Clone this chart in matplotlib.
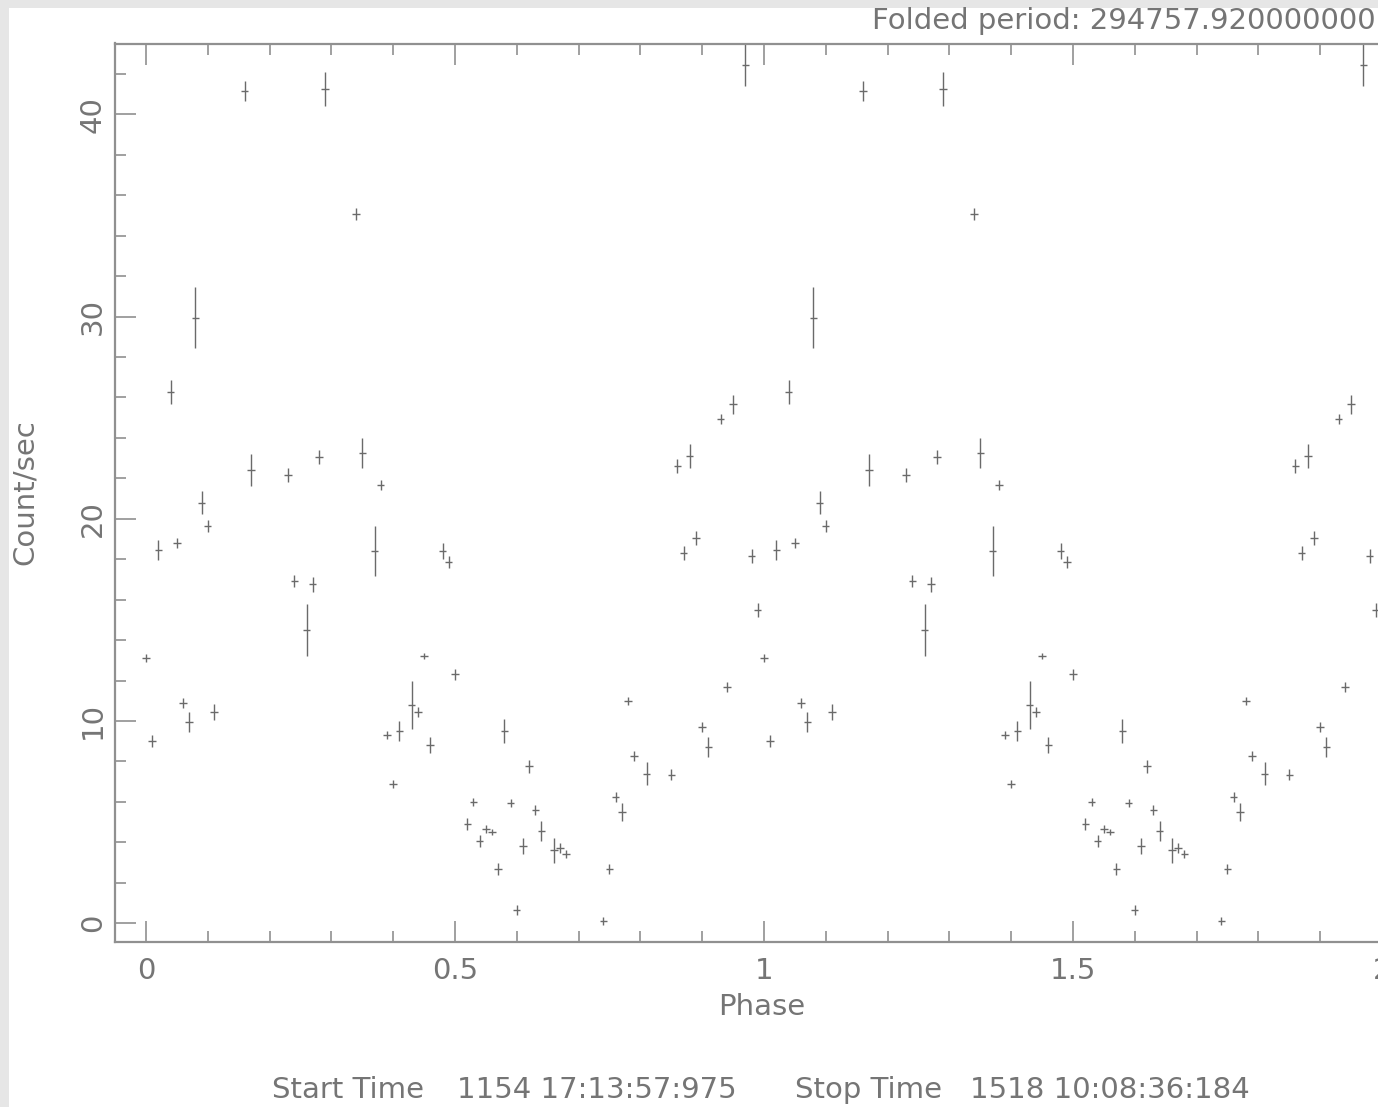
import matplotlib
matplotlib.use("Agg")
import matplotlib.pyplot as plt
from matplotlib.patches import Rectangle
from matplotlib.ticker import MultipleLocator, FuncFormatter
import numpy as np

# Folded light curve: one cycle of binned count rates (bin width 0.01 in phase)
phase = [0.00, 0.01, 0.02, 0.04, 0.05, 0.06, 0.07, 0.08, 0.09, 0.10, 0.11,
         0.16, 0.17, 0.23, 0.24, 0.26, 0.27, 0.28, 0.29, 0.34, 0.35, 0.37,
         0.38, 0.39, 0.40, 0.41, 0.43, 0.44, 0.45, 0.46, 0.48, 0.49, 0.50,
         0.52, 0.53, 0.54, 0.55, 0.56, 0.57, 0.58, 0.59, 0.60, 0.61, 0.62,
         0.63, 0.64, 0.66, 0.67, 0.68, 0.74, 0.75, 0.76, 0.77, 0.78, 0.79,
         0.81, 0.85, 0.86, 0.87, 0.88, 0.89, 0.90, 0.91, 0.93, 0.94, 0.95,
         0.97, 0.98, 0.99]
rate = [13.1, 9.0, 18.45, 26.25, 18.8, 10.9, 9.95, 29.95, 20.8, 19.65, 10.45,
        41.15, 22.4, 22.15, 16.9, 14.5, 16.75, 23.05, 41.25, 35.05, 23.25, 18.4,
        21.65, 9.3, 6.9, 9.5, 10.8, 10.45, 13.2, 8.8, 18.4, 17.85, 12.3,
        4.9, 6.0, 4.05, 4.65, 4.5, 2.7, 9.5, 5.95, 0.65, 3.8, 7.75,
        5.6, 4.55, 3.6, 3.7, 3.4, 0.1, 2.7, 6.25, 5.5, 11.0, 8.25,
        7.4, 7.35, 22.6, 18.3, 23.1, 19.05, 9.7, 8.7, 24.95, 11.7, 25.65,
        42.45, 18.15, 15.5]
rate_err = [0.2, 0.3, 0.5, 0.6, 0.25, 0.25, 0.5, 1.5, 0.55, 0.3, 0.4,
            0.5, 0.78, 0.35, 0.3, 1.3, 0.35, 0.35, 0.82, 0.3, 0.75, 1.25,
            0.25, 0.2, 0.2, 0.5, 1.2, 0.25, 0.15, 0.4, 0.4, 0.3, 0.25,
            0.3, 0.2, 0.3, 0.2, 0.15, 0.3, 0.58, 0.2, 0.25, 0.4, 0.3,
            0.25, 0.5, 0.6, 0.25, 0.2, 0.2, 0.25, 0.25, 0.45, 0.2, 0.25,
            0.58, 0.25, 0.35, 0.35, 0.6, 0.35, 0.25, 0.5, 0.25, 0.25, 0.45,
            1.07, 0.35, 0.35]
bin_half_width = 0.006

period_text = "Folded period: 294757.920000000"
start_label, start_value = "Start Time", "1154 17:13:57:975"
stop_label, stop_value = "Stop Time", "1518 10:08:36:184"

W, H = 1378, 1107
fig = plt.figure(figsize=(W / 100, H / 100), dpi=100, facecolor="#e6e6e6")


def fx(px):
    return px / W


def fy(py):
    return 1 - py / H


# white page inside the grey frame
fig.patches.append(Rectangle((fx(9), 0), 1, fy(8), transform=fig.transFigure,
                             facecolor="white", edgecolor="none", zorder=-10))

ink = "#757575"
axis_ink = "#909090"
fs = 21
font = dict(family="DejaVu Sans", color=ink)

ax = fig.add_axes([fx(115), fy(942), fx(1412.9) - fx(115), fy(43.5) - fy(942)])
ax.set_zorder(1)
ax.set_facecolor("white")

# two cycles of the folded curve
x_all = np.concatenate([np.array(phase), np.array(phase) + 1.0])
y_all = np.concatenate([rate, rate])
e_all = np.concatenate([rate_err, rate_err])
ax.errorbar(x_all, y_all, yerr=e_all, xerr=bin_half_width, fmt="none",
            ecolor="#6a6a6a", elinewidth=1.0, capsize=0)

ax.set_xlim(-0.05, 2.05)
ax.set_ylim(-0.93, 43.5)

ax.xaxis.set_major_locator(MultipleLocator(0.5))
ax.xaxis.set_minor_locator(MultipleLocator(0.1))
ax.yaxis.set_major_locator(MultipleLocator(10))
ax.yaxis.set_minor_locator(MultipleLocator(2))
ax.xaxis.set_major_formatter(FuncFormatter(lambda v, p: f"{v:g}"))

ax.tick_params(which="both", direction="in", top=True, right=True,
               color=axis_ink, width=1.2)
ax.tick_params(which="major", length=15)
ax.tick_params(which="minor", length=8)
ax.tick_params(axis="x", which="major", pad=11, labelsize=fs, labelcolor=ink)
ax.tick_params(axis="y", which="major", pad=6, labelsize=fs, labelcolor=ink,
               labelrotation=90)
for lab in ax.get_yticklabels():
    lab.set_verticalalignment("center")
for sp in ax.spines.values():
    sp.set_color(axis_ink)
    sp.set_linewidth(1.6)

fig.text(fx(762), fy(1007), "Phase", ha="center", va="center", fontsize=fs, **font)
fig.text(fx(25), fy(492), "Count/sec", ha="center", va="center", rotation=90,
         fontsize=fs, **font)
fig.text(fx(872), fy(21), period_text, ha="left", va="center", fontsize=fs, **font)
fig.text(fx(272), fy(1090), start_label, ha="left", va="center", fontsize=fs, **font)
fig.text(fx(457), fy(1090), start_value, ha="left", va="center", fontsize=fs, **font)
fig.text(fx(795), fy(1090), stop_label, ha="left", va="center", fontsize=fs, **font)
fig.text(fx(970), fy(1090), stop_value, ha="left", va="center", fontsize=fs, **font)

fig.savefig("out.png", dpi=100, facecolor=fig.get_facecolor())
